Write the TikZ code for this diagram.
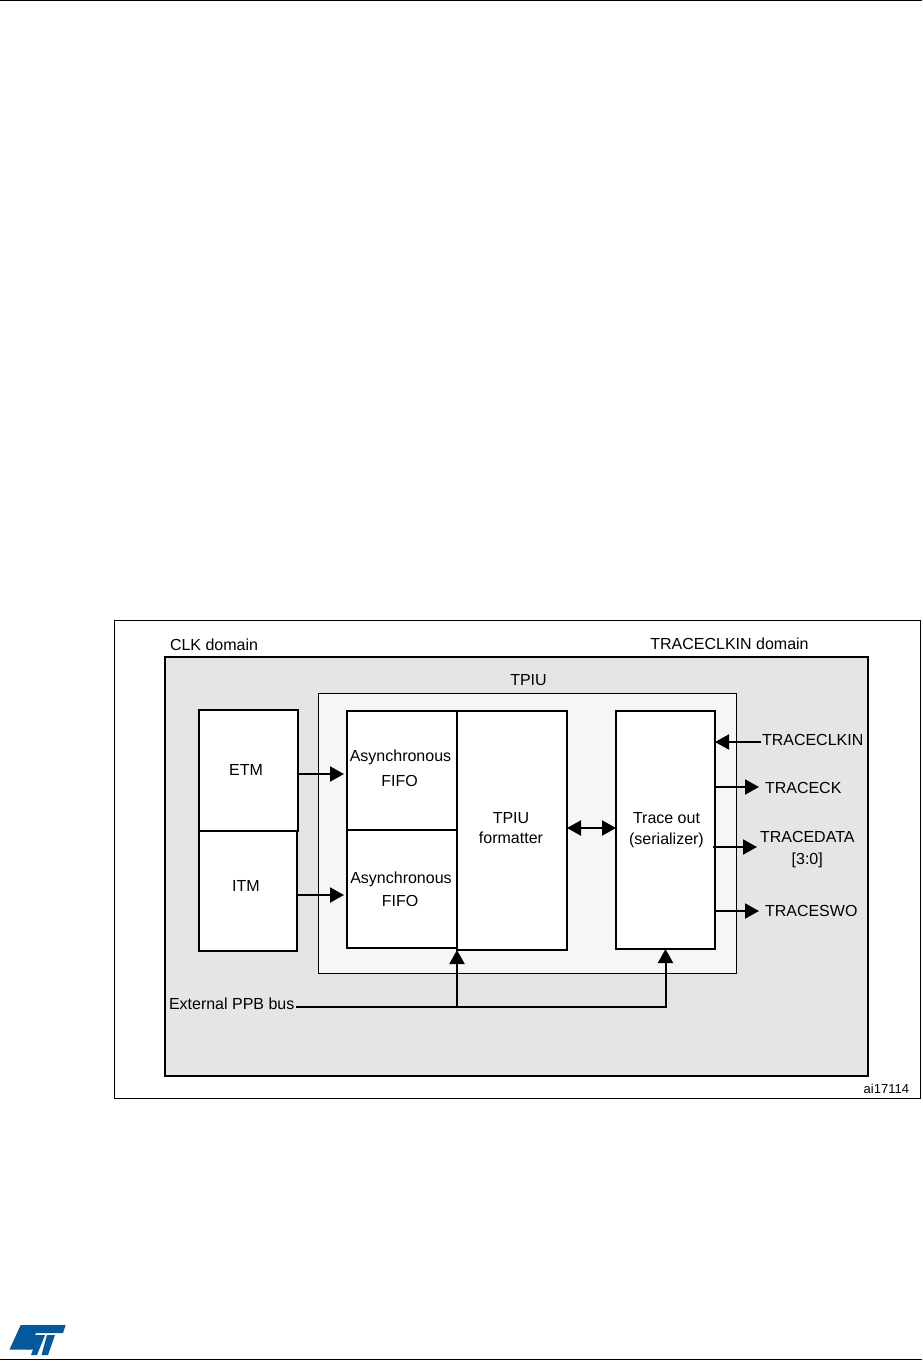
\documentclass[tikz,border=0pt]{standalone}
\usepackage{fontspec}
\setmainfont{Liberation Sans}
\usetikzlibrary{arrows.meta}
\definecolor{domaingrey}{HTML}{E5E5E5}
\definecolor{tpiugrey}{HTML}{F6F6F6}
\definecolor{stblue}{HTML}{03599B}
\tikzset{
  x=1pt,y=-1pt,
  every node/.style={font=\fontsize{16}{18}\selectfont},
  box/.style={draw=black,line width=2pt,fill=white,inner sep=0pt,outer sep=0pt},
  thinbox/.style={draw=black,line width=0.9pt,inner sep=0pt,outer sep=0pt},
  txt/.style={inner sep=0pt,outer sep=0pt,align=center},
  sig/.style={draw=black,line width=2pt},
  arr/.style={sig,-{Triangle[length=14pt,width=15pt]}},
  darr/.style={sig,{Triangle[length=14pt,width=15pt]}-{Triangle[length=14pt,width=15pt]}},
}
\begin{document}
\begin{tikzpicture}
\useasboundingbox (0,0) rectangle (922,1361);
\draw[black,line width=1.2pt] (0,0.5) -- (922,0.5);
\draw[black,line width=1.2pt] (0,1359.5) -- (922,1359.5);
% frame, domain, TPIU
\node[thinbox,minimum width=806pt,minimum height=478pt] (frame) at (517,859) {};
\node[box,fill=domaingrey,minimum width=703.5pt,minimum height=419pt] (domain) at (516.25,866.5) {};
\node[thinbox,fill=tpiugrey,minimum width=418.5pt,minimum height=280.5pt] (tpiu) at (527.25,833.25) {};
% blocks
\node[box,minimum width=99pt,minimum height=121pt] (etm) at (248.5,770.5) {};
\node[box,minimum width=98pt,minimum height=120pt] (itm) at (248,891) {};
\node[box,minimum width=110pt,minimum height=119pt] (fifoa) at (402,770.5) {};
\node[box,minimum width=110pt,minimum height=118pt] (fifob) at (402,889) {};
\node[box,minimum width=110pt,minimum height=239pt] (formatter) at (512,830.5) {};
\node[box,minimum width=99pt,minimum height=238pt] (trace) at (665.5,830) {};
% texts
\node[txt,anchor=west] (tclk) at (170,645) {CLK domain};
\node[txt] (ttclk) at (729.5,644) {TRACECLKIN domain};
\node[txt] (ttpiu) at (528.5,680) {TPIU};
\node[txt] (tetm) at (246,770) {ETM};
\node[txt] (titm) at (246,886) {ITM};
\node[txt] (tfa1) at (400.5,757) {Asynchronous};
\node[txt] (tfa2) at (399.5,780.5) {FIFO};
\node[txt] (tfb1) at (401,879) {Asynchronous};
\node[txt] (tfb2) at (400,900.5) {FIFO};
\node[txt] (tfmt) at (511,828.5) {TPIU\\[2pt]formatter};
\node[txt] (ttrace) at (666.5,830.5) {Trace out\\[3pt](serializer)};
\node[txt,anchor=west] (lclkin) at (762,740) {TRACECLKIN};
\node[txt,anchor=west] (lck) at (765,788) {TRACECK};
\node[txt,anchor=west,align=center] (ldata) at (760,849.5) {TRACEDATA\\[4pt]{[3:0]}};
\node[txt,anchor=west] (lswo) at (765,911) {TRACESWO};
\node[txt,anchor=west] (lppb) at (169,1004) {External PPB bus};
\node[txt,anchor=east,font=\fontsize{13}{15}\selectfont] (lai) at (909,1089) {ai17114};
% connectors
\draw[arr] ([yshift=-3.5pt,xshift=-1pt]etm.east) -- ([yshift=-3.5pt,xshift=-3pt]fifoa.west);
\draw[arr] ([yshift=-4pt,xshift=-1pt]itm.east) -- ([yshift=-6pt,xshift=-3pt]fifob.west);
\draw[darr] ([yshift=2.5pt]formatter.east) -- ([yshift=2pt]trace.west);
\draw[arr] ([yshift=-2pt,xshift=-1pt]lclkin.west) -- ([yshift=88pt,xshift=0pt]trace.east);
\draw[arr] ([yshift=43pt]trace.east) -- ([yshift=1pt,xshift=-6pt]lck.west);
\draw[arr] ([yshift=-17pt,xshift=-2pt]trace.east) -- ([yshift=2.5pt,xshift=-3pt]ldata.west);
\draw[arr] ([yshift=-81pt]trace.east) -- ([xshift=-6pt]lswo.west);
\coordinate (busj) at (formatter.south west |- 0,1006.5);
\draw[arr] ([yshift=-2.5pt,xshift=2pt]lppb.east) -| (trace.south);
\draw[arr] (busj) -- (formatter.south west);
% logo
\fill[stblue] (20.7,1325) -- (65.7,1325) -- (63,1333) -- (36,1333) -- (29,1349.5) -- (9.5,1349.5) -- cycle;
\fill[stblue] (33.5,1335) -- (45,1335) -- (37,1355) -- (31,1355) -- (33,1349.5) -- (27,1349.5) -- (28.5,1346) -- cycle;
\fill[stblue] (47,1335) -- (55,1335) -- (48,1355) -- (41.5,1355) -- cycle;
\end{tikzpicture}
\end{document}
